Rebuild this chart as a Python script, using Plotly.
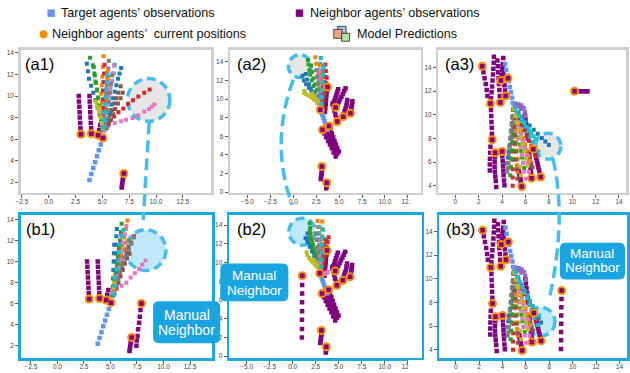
import plotly.graph_objects as go

W, H = 630, 373

# ---------------- colours ----------------
PRED_COLORS = ["#1f77b4", "#ff7f0e", "#2ca02c", "#d62728", "#9467bd",
               "#8c564b", "#e377c2", "#7f7f7f", "#bcbd22", "#17becf"]
TARGET_COLOR = "#6495ED"
NEIGHBOR_COLOR = "#800080"
CURRENT_COLOR = "#FF8C00"
ANNOT_BLUE = "#45bdf0"
CALLOUT_BLUE = "#1aa5e0"

# ---------------- legend / labels ----------------
LEGEND_TEXTS = ["Target agents’ observations", "Neighbor agents’ observations",
                "Neighbor agents’ \u00a0current positions", "Model Predictions"]
PANEL_LABELS = ["(a1)", "(a2)", "(a3)", "(b1)", "(b2)", "(b3)"]
CALLOUT_LINES = ["Manual", "Neighbor"]

# ---------------- scene 1 (a1 / b1) ----------------
S1_TGT_X = [3.8, 3.97, 4.15, 4.32, 4.5, 4.67, 4.85, 5.02]
S1_TGT_Y = [2.2, 2.75, 3.3, 3.85, 4.4, 4.95, 5.5, 6.05]
S1_NEI_X = [[2.8, 2.82, 2.85, 2.88, 2.9, 2.93, 2.96, 3.0],
            [3.8, 3.82, 3.85, 3.87, 3.9, 3.92, 3.95, 3.97],
            [4.8, 4.7, 4.6],
            [6.8, 6.83, 6.86, 6.9, 6.93, 6.97, 7.0]]
S1_NEI_Y = [[10.0, 9.5, 9.0, 8.5, 8.0, 7.5, 7.0, 6.45],
            [10.0, 9.5, 9.0, 8.5, 8.0, 7.5, 7.0, 6.5],
            [7.3, 6.85, 6.35],
            [1.5, 1.7, 1.95, 2.2, 2.4, 2.6, 2.8]]
S1_CUR_X = [3.0, 3.97, 4.6, 5.05, 7.0]
S1_CUR_Y = [6.45, 6.5, 6.35, 6.1, 2.8]
B1_MANUAL_X = [7.92, 7.83, 7.76, 7.7, 7.6, 7.55, 7.48, 7.45]
B1_MANUAL_Y = [6.03, 5.4, 4.77, 4.2, 3.57, 2.94, 2.5, 2.0]

A1_PRED_X = [
    [5.05, 4.9, 4.75, 4.55, 4.35, 4.15, 3.95, 3.75, 3.65, 3.55],
    [5.1, 5.05, 5.0, 4.95, 4.9, 4.95, 5.0, 5.05, 5.1],
    [5.05, 4.95, 4.85, 4.75, 4.6, 4.5, 4.35, 4.25, 4.1, 3.85],
    [5.3, 5.7, 6.1, 6.5, 6.95, 7.4, 7.85, 8.35, 8.9, 9.4],
    [5.0, 4.95, 4.9, 4.95, 5.0],
    [5.3, 5.5, 5.7, 5.9, 6.1, 6.3, 6.5, 6.7],
    [5.2, 5.55, 6.15, 6.75, 7.2, 7.8, 8.35, 8.9, 9.35, 9.6, 9.85],
    [5.15, 5.2, 5.25, 5.3, 5.35, 5.4, 5.5, 5.55, 5.6],
    [5.0, 4.9, 4.8, 4.7, 4.6, 4.5, 4.4],
    [5.2, 5.3, 5.4, 5.5, 5.6, 5.75, 5.9, 6.05, 6.15],
    [5.3, 5.5, 5.7, 5.85, 6.0, 6.15, 6.3, 6.45, 6.6, 6.75],
    [5.2, 5.25, 5.3, 5.35, 5.4, 5.45, 5.5],
    [5.0, 4.9, 4.8, 4.7, 4.6, 4.5, 4.4, 4.3, 4.2],
    [5.1, 5.1, 5.1, 5.05, 5.05, 5.1, 5.15, 5.2],
    [5.1, 5.0, 4.9],
    [5.4, 5.6, 5.8, 6.0, 6.2, 6.45, 6.7, 6.9],
    [5.2, 5.3, 5.4, 5.5, 5.6, 5.7, 5.8, 5.95, 6.1],
    [5.3, 5.4, 5.5, 5.6, 5.7, 5.8, 5.9],
    [5.05, 4.95, 4.85, 4.75, 4.65],
    [5.1, 5.15, 5.2, 5.25, 5.3, 5.35, 5.4, 5.45]]
A1_PRED_Y = [
    [6.8, 7.5, 8.2, 8.9, 9.6, 10.3, 10.95, 11.6, 12.3, 13.0],
    [6.9, 7.8, 8.6, 9.4, 10.2, 11.0, 11.8, 12.7, 13.7],
    [7.0, 7.7, 8.4, 9.1, 9.85, 10.6, 11.35, 12.1, 12.85, 13.55],
    [7.3, 7.7, 8.1, 8.5, 8.85, 9.25, 9.6, 9.95, 10.3, 10.6],
    [6.9, 7.3, 7.7, 8.1, 8.5],
    [7.2, 7.7, 8.2, 8.7, 9.3, 9.8, 10.3, 10.9],
    [6.8, 7.2, 7.5, 7.65, 7.8, 7.95, 8.2, 8.55, 8.8, 9.0, 9.2],
    [7.0, 7.8, 8.6, 9.4, 10.2, 11.0, 11.8, 12.55, 13.25],
    [7.3, 7.7, 8.1, 8.5, 8.9, 9.2, 9.5],
    [6.9, 7.6, 8.4, 9.2, 9.9, 10.7, 11.4, 12.1, 12.9],
    [7.2, 7.9, 8.5, 9.2, 9.8, 10.4, 11.0, 11.6, 12.1, 12.6],
    [7.0, 7.9, 8.8, 9.7, 10.6, 11.5, 12.3],
    [7.0, 7.7, 8.4, 9.1, 9.8, 10.5, 11.2, 11.9, 12.7],
    [7.3, 8.1, 8.9, 9.7, 10.5, 11.3, 12.1, 12.9],
    [7.6, 8.0, 8.4],
    [7.0, 7.4, 7.8, 8.3, 8.8, 9.3, 9.8, 10.3],
    [7.2, 7.9, 8.6, 9.3, 10.0, 10.7, 11.4, 12.1, 12.8],
    [7.1, 7.9, 8.7, 9.5, 10.3, 11.1, 11.9],
    [7.0, 7.5, 8.0, 8.5, 9.0],
    [7.1, 7.8, 8.5, 9.2, 9.9, 10.6, 11.3, 12.0]]

B1_PRED_X = [
    [5.2, 5.25, 5.3, 5.35, 5.4, 5.45, 5.5, 5.55, 5.6],
    [5.25, 5.4, 5.55, 5.7, 5.85, 6.0, 6.15, 6.3, 6.45, 6.6],
    [5.2, 5.3, 5.4, 5.5, 5.6, 5.7, 5.8, 5.9, 6.0, 6.05],
    [5.3, 5.5, 5.7, 5.9, 6.1, 6.3, 6.5, 6.7, 6.95, 7.2],
    [5.2, 5.3, 5.4],
    [5.3, 5.45, 5.6, 5.75, 5.9, 6.05, 6.2, 6.4, 6.55, 6.7],
    [5.4, 5.6, 6.05, 6.5, 6.9, 7.3, 7.7, 8.0, 8.3],
    [5.3, 5.5, 5.7, 5.9, 6.1, 6.3, 6.5, 6.7, 6.95, 7.2],
    [5.2, 5.25, 5.3, 5.35, 5.4, 5.45],
    [5.25, 5.35, 5.45, 5.55, 5.65, 5.75, 5.85, 5.95, 6.05, 6.2],
    [5.2, 5.22, 5.25, 5.27, 5.3, 5.32, 5.35],
    [5.3, 5.45, 5.6, 5.75, 5.9, 6.05, 6.2, 6.35],
    [5.25, 5.35, 5.45, 5.55, 5.65, 5.75, 5.85, 5.95],
    [5.3, 5.4, 5.5, 5.6, 5.7, 5.8, 5.9, 6.0],
    [5.25, 5.35],
    [5.35, 5.55, 5.75, 5.95, 6.15, 6.35, 6.55, 6.8],
    [5.3, 5.45, 5.6, 5.75, 5.9, 6.05, 6.2, 6.35, 6.5],
    [5.3, 5.5, 5.7, 5.9, 6.1, 6.3, 6.55, 6.8],
    [5.25, 5.3, 5.35, 5.4],
    [5.3, 5.4, 5.5, 5.6, 5.7, 5.8, 5.9, 6.0]]
B1_PRED_Y = [
    [6.8, 7.6, 8.4, 9.2, 10.0, 10.8, 11.6, 12.4, 13.1],
    [6.8, 7.6, 8.4, 9.1, 9.9, 10.7, 11.5, 12.3, 13.1, 13.9],
    [6.8, 7.5, 8.3, 9.0, 9.8, 10.5, 11.3, 12.0, 12.8, 13.6],
    [6.9, 7.5, 8.1, 8.7, 9.3, 9.9, 10.5, 11.1, 11.8, 12.4],
    [6.9, 7.3, 7.7],
    [6.9, 7.4, 7.9, 8.4, 8.9, 9.4, 9.9, 10.4, 10.9, 11.4],
    [7.0, 7.4, 7.7, 8.0, 8.5, 8.9, 9.3, 9.7, 10.1],
    [6.9, 7.5, 8.1, 8.7, 9.3, 9.9, 10.5, 11.1, 11.7, 12.3],
    [6.9, 7.3, 7.7, 8.1, 8.5, 8.9],
    [6.8, 7.5, 8.2, 8.9, 9.6, 10.3, 11.0, 11.7, 12.4, 13.0],
    [6.8, 7.6, 8.4, 9.2, 10.0, 10.8, 11.6],
    [6.9, 7.6, 8.3, 9.0, 9.7, 10.4, 11.1, 11.8],
    [6.9, 7.6, 8.3, 9.0, 9.7, 10.4, 11.1, 11.8],
    [7.0, 7.8, 8.6, 9.4, 10.2, 11.0, 11.8, 12.6],
    [7.0, 7.4],
    [7.0, 7.5, 8.0, 8.6, 9.2, 9.8, 10.3, 10.75],
    [7.0, 7.8, 8.6, 9.4, 10.2, 11.0, 11.8, 12.6, 13.4],
    [7.0, 7.6, 8.3, 9.0, 9.7, 10.4, 11.2, 12.0],
    [7.0, 7.5, 8.0, 8.5],
    [6.9, 7.7, 8.5, 9.3, 10.1, 10.9, 11.7, 12.5]]

# ---------------- scene 2 (a2 / b2) ----------------
S2_TGT_X = [3.75, 3.64, 3.52, 3.41, 3.3, 3.18, 3.07, 2.95]
S2_TGT_Y = [6.7, 7.0, 7.3, 7.6, 7.95, 8.25, 8.55, 8.85]
S2_NEI_X = [[3.45, 3.5, 3.54, 3.58, 3.62, 3.67, 3.73],
            [4.9, 4.8, 4.7, 4.6, 4.5, 4.4, 4.3],
            [5.7, 5.55, 5.4, 5.25, 5.1, 4.95, 4.8, 4.65],
            [5.9, 5.85, 5.8, 5.7, 5.6, 5.5, 5.45],
            [6.45, 6.42, 6.38, 6.34, 6.3, 6.25],
            [4.3, 4.4, 4.5, 4.6, 4.7, 4.8],
            [3.19, 3.4, 3.6, 3.8, 4.0, 4.2, 4.4, 4.62],
            [3.9, 4.05, 4.2, 4.35, 4.5, 4.65, 4.8, 4.98],
            [3.55, 3.72, 3.9, 4.08, 4.26, 4.44, 4.62, 4.8],
            [3.0, 3.03, 3.06, 3.09, 3.12, 3.15, 3.12],
            [3.6, 3.62, 3.64, 3.65]]
S2_NEI_Y = [[8.6, 9.05, 9.5, 9.95, 10.4, 10.85, 11.28],
            [11.05, 10.75, 10.45, 10.15, 9.85, 9.6, 9.38],
            [11.15, 10.85, 10.55, 10.25, 9.95, 9.65, 9.35, 9.1],
            [9.9, 9.6, 9.3, 9.0, 8.7, 8.4, 8.1],
            [9.75, 9.5, 9.25, 9.0, 8.75, 8.5],
            [9.5, 9.1, 8.7, 8.3, 7.95, 7.6],
            [6.69, 6.3, 5.9, 5.5, 5.1, 4.7, 4.25, 3.82],
            [7.1, 6.7, 6.3, 5.9, 5.5, 5.1, 4.7, 4.35],
            [6.9, 6.5, 6.1, 5.7, 5.3, 4.9, 4.5, 4.1],
            [1.4, 1.6, 1.85, 2.05, 2.3, 2.5, 2.74],
            [0.4, 0.6, 0.8, 1.0]]
S2_CUR_X = [3.73, 4.62, 5.45, 6.24, 4.8, 3.19, 3.9, 3.12, 3.65, 2.95]
S2_CUR_Y = [11.28, 9.1, 8.1, 8.48, 7.58, 6.69, 7.1, 2.74, 1.0, 8.85]
B2_MANUAL_X = [1.04, 1.03, 1.03, 1.02, 1.02, 1.01, 1.01, 1.0]
B2_MANUAL_Y = [8.6, 7.6, 6.7, 5.75, 4.8, 3.9, 2.9, 2.0]

A2_PRED_X = [
    [2.9, 2.6, 2.3, 2.0, 1.7, 1.4, 1.15, 1.0],
    [3.0, 2.95, 2.9, 2.8, 2.7, 2.6, 2.5, 2.4],
    [2.8, 2.6, 2.4, 2.2, 2.0, 1.85, 1.75, 1.65, 1.6],
    [3.1, 3.2, 3.3, 3.4, 3.45, 3.5, 3.55, 3.5],
    [3.0, 2.95, 2.9, 2.85, 2.8],
    [3.1, 3.05, 3.0, 2.95, 2.9, 2.85],
    [3.0, 2.95, 2.9, 2.85, 2.8, 2.75, 2.7],
    [3.05, 3.1, 3.1, 3.1, 3.15, 3.2, 3.3],
    [2.9, 2.6, 2.3, 2.0, 1.7, 1.4, 1.2, 1.2],
    [3.0, 3.0, 2.95, 2.9, 2.85, 2.8, 2.85, 2.95, 3.0],
    [2.8, 2.5, 2.2, 1.9, 1.7, 1.5, 1.35],
    [3.1, 3.1, 3.05, 3.0, 2.95, 2.9],
    [3.0, 2.8, 2.6, 2.4, 2.2, 2.05, 1.95],
    [3.2, 3.3, 3.4, 3.5, 3.6, 3.65],
    [3.05, 3.0, 2.95, 2.9],
    [3.15, 3.2, 3.25, 3.3, 3.35],
    [3.05, 3.0, 2.95, 2.9, 2.85, 2.8],
    [3.0, 2.9, 2.8, 2.7, 2.6, 2.5],
    [2.9, 2.7, 2.5, 2.3, 2.1],
    [3.05, 3.1, 3.15, 3.2, 3.25, 3.3]]
A2_PRED_Y = [
    [9.4, 9.9, 10.4, 10.8, 11.2, 11.6, 12.0, 12.5],
    [9.6, 10.3, 11.0, 11.7, 12.4, 13.1, 13.8, 14.5],
    [9.6, 10.2, 10.8, 11.4, 12.0, 12.6, 13.1, 13.7, 14.2],
    [9.4, 10.0, 10.6, 11.2, 11.8, 12.4, 13.0, 13.7],
    [9.7, 10.3, 10.9, 11.5, 12.1],
    [9.5, 10.1, 10.7, 11.3, 11.9, 12.5],
    [9.6, 10.1, 10.6, 11.1, 11.6, 12.1, 12.6],
    [9.5, 10.2, 10.9, 11.6, 12.3, 13.0, 13.6],
    [9.3, 9.6, 9.9, 10.15, 10.35, 10.5, 10.65, 10.85],
    [9.5, 10.1, 10.7, 11.3, 11.9, 12.5, 13.1, 13.8, 14.4],
    [9.6, 10.1, 10.6, 11.1, 11.6, 12.1, 12.7],
    [9.6, 10.4, 11.2, 12.0, 12.8, 13.6],
    [9.6, 10.3, 11.0, 11.6, 12.2, 12.9, 13.6],
    [9.3, 9.9, 10.5, 11.1, 11.7, 12.3],
    [9.5, 10.0, 10.5, 11.0],
    [9.4, 10.0, 10.6, 11.2, 11.8],
    [9.5, 10.2, 10.9, 11.6, 12.3, 13.0],
    [9.6, 10.3, 11.0, 11.7, 12.4, 13.1],
    [9.4, 9.7, 10.0, 10.3, 10.6],
    [9.4, 10.2, 11.0, 11.8, 12.6, 13.4]]

B2_PRED_X = [
    [2.9, 2.7, 2.5, 2.3, 2.1, 1.9, 1.75, 1.6],
    [3.1, 3.05, 3.0, 2.95, 2.9, 2.85, 2.8, 2.75, 2.7],
    [3.0, 2.8, 2.6, 2.4, 2.2, 2.05, 1.95, 1.9, 1.85],
    [3.2, 3.3, 3.4, 3.5, 3.6, 3.7, 3.8, 3.9],
    [3.0, 2.95, 2.9, 2.85],
    [3.2, 3.25, 3.3, 3.35, 3.4, 3.45],
    [2.75, 2.9, 3.05, 3.2, 3.35, 3.5, 3.65, 3.8],
    [3.1, 3.1, 3.05, 3.0, 2.95, 2.9, 2.85],
    [2.8, 2.6, 2.4, 2.2, 2.0, 1.8, 1.6, 1.5],
    [3.0, 3.0, 3.0, 2.95, 2.95, 2.9, 2.9],
    [2.85, 2.6, 2.35, 2.1, 1.85, 1.6, 1.4],
    [3.1, 3.1, 3.15, 3.15, 3.2, 3.2, 3.2],
    [2.9, 2.7, 2.5, 2.3, 2.1, 1.95, 1.85],
    [3.15, 3.25, 3.35, 3.45, 3.55, 3.65],
    [3.0, 2.95],
    [3.1, 3.15, 3.2, 3.25, 3.3],
    [3.0, 2.9, 2.8, 2.7],
    [3.0, 2.9, 2.8, 2.7, 2.6, 2.5],
    [2.9, 2.7, 2.5, 2.3],
    [3.05, 3.1, 3.15, 3.2, 3.25, 3.3]]
B2_PRED_Y = [
    [9.6, 10.1, 10.6, 11.1, 11.6, 12.1, 12.6, 13.1],
    [9.5, 10.1, 10.7, 11.3, 11.9, 12.5, 13.1, 13.8, 14.45],
    [9.5, 10.1, 10.7, 11.3, 11.9, 12.5, 13.1, 13.7, 14.2],
    [9.4, 9.8, 10.2, 10.7, 11.2, 11.7, 12.2, 12.7],
    [9.6, 10.2, 10.8, 11.4],
    [9.5, 10.1, 10.7, 11.3, 11.9, 12.5],
    [8.9, 8.8, 8.75, 8.7, 8.75, 8.8, 8.9, 9.0],
    [9.5, 10.1, 10.7, 11.3, 11.9, 12.5, 13.1],
    [9.4, 9.6, 9.8, 10.0, 10.25, 10.5, 10.8, 11.1],
    [9.6, 10.3, 11.0, 11.7, 12.4, 13.1, 13.8],
    [9.7, 10.2, 10.7, 11.2, 11.7, 12.2, 12.6],
    [9.6, 10.4, 11.2, 12.0, 12.8, 13.6, 14.4],
    [9.7, 10.3, 10.9, 11.5, 12.1, 12.7, 13.3],
    [9.3, 9.9, 10.5, 11.1, 11.7, 12.3],
    [9.5, 9.9],
    [9.4, 10.0, 10.6, 11.2, 11.8],
    [10.0, 10.8, 11.6, 12.4],
    [9.6, 10.3, 11.0, 11.7, 12.4, 13.1],
    [9.4, 9.7, 10.0, 10.3],
    [9.5, 10.3, 11.1, 11.9, 12.7, 13.5]]

# ---------------- scene 3 (a3 / b3) ----------------
S3_TGT_X = [4.25, 4.35, 4.45, 4.55, 4.65, 4.75, 4.85, 4.95]
S3_TGT_Y = [14.3, 13.8, 13.3, 12.85, 12.35, 11.9, 11.45, 11.0]
S3_NEI_X = [[2.3, 2.4, 2.5, 2.6, 2.68, 2.75],
            [3.3, 3.28, 3.25, 3.22, 3.18, 3.14, 3.1, 3.05, 3.0],
            [3.6, 3.63, 3.66, 3.7, 3.73, 3.77, 3.8, 3.85],
            [4.1, 4.05, 4.0, 3.95, 3.9],
            [4.05, 4.1, 4.15, 4.2, 4.25, 4.3],
            [4.5],
            [3.05, 3.07, 3.09, 3.11, 3.13, 3.15],
            [3.4, 3.38, 3.36, 3.36, 3.38, 3.42, 3.46, 3.5],
            [3.0, 2.98, 2.96, 2.95, 2.95],
            [4.0, 4.02, 4.05, 4.08, 4.1, 4.13, 4.16, 4.2],
            [5.4, 5.44, 5.48, 5.52, 5.56, 5.6, 5.64, 5.68],
            [5.95, 6.0, 6.05, 6.1, 6.15, 6.2],
            [6.3, 6.33, 6.36, 6.4, 6.43, 6.46, 6.49, 6.52],
            [6.85, 6.91, 6.98, 7.04, 7.1, 7.17, 7.23, 7.3],
            [6.67],
            [10.2, 10.4, 10.6, 10.8, 11.0, 11.2, 11.3]]
S3_NEI_Y = [[14.1, 13.6, 13.1, 12.6, 12.1, 11.6],
            [14.9, 14.4, 13.9, 13.4, 12.9, 12.4, 11.9, 11.4, 10.95],
            [14.6, 14.1, 13.6, 13.1, 12.6, 12.1, 11.6, 11.05],
            [14.8, 14.3, 13.8, 13.35, 12.9],
            [14.0, 13.5, 13.0, 12.5, 12.05, 11.6],
            [13.1],
            [10.4, 9.9, 9.4, 8.9, 8.4, 7.9],
            [6.8, 6.4, 6.0, 5.6, 5.2, 4.8, 4.4, 3.9],
            [7.3, 6.8, 6.3, 5.8, 5.3],
            [6.9, 6.5, 6.1, 5.7, 5.3, 4.9, 4.45, 4.05],
            [5.35, 5.15, 4.95, 4.75, 4.55, 4.35, 4.15, 3.94],
            [10.0, 9.6, 9.2, 8.8, 8.4, 8.0],
            [6.8, 6.5, 6.2, 5.9, 5.55, 5.25, 4.95, 4.65],
            [6.6, 6.35, 6.1, 5.85, 5.55, 5.3, 5.0, 4.75],
            [7.1],
            [12.0, 12.0, 12.0, 12.0, 12.0, 12.0, 12.0]]
S3_CUR_X = [2.3, 3.0, 3.85, 3.9, 4.3, 4.5, 3.15, 3.4, 4.0, 5.68, 6.52, 7.3, 6.67, 10.2]
S3_CUR_Y = [14.1, 10.95, 11.05, 12.9, 11.6, 13.1, 7.9, 6.8, 6.9, 3.94, 4.65, 4.75, 7.1, 12.0]
B3_MANUAL_X = [9.06, 9.04, 9.03, 9.02, 9.02, 9.01, 9.01, 9.0]
B3_MANUAL_Y = [9.0, 8.3, 7.6, 6.9, 6.2, 5.5, 4.8, 4.07]

A3_PRED_X = [
    [5.1, 5.4, 5.7, 6.0, 6.35, 6.7, 7.05, 7.4, 7.7, 8.0],
    [4.95, 4.98, 5.0, 5.03, 5.06, 5.1, 5.15, 5.2, 5.25, 5.3],
    [5.0, 5.1, 5.2, 5.3, 5.4, 5.5, 5.6, 5.7, 5.8, 5.9],
    [4.95, 4.95, 4.95, 4.95, 4.94, 4.93, 4.92, 4.91, 4.9, 4.9],
    [4.9, 5.15, 5.4, 5.65, 5.85, 5.95, 6.0],
    [5.05, 5.2, 5.35, 5.55, 5.75, 5.95, 6.15, 6.35, 6.5, 6.6],
    [5.0, 5.1, 5.2, 5.3, 5.45, 5.6, 5.7, 5.8, 5.9, 6.0],
    [4.95, 4.9, 4.85, 4.8, 4.75, 4.7, 4.65, 4.6, 4.55, 4.5],
    [5.0, 5.05, 5.1, 5.15, 5.2, 5.3, 5.4, 5.5, 5.6],
    [5.1, 5.35, 5.6, 5.85, 6.1, 6.35, 6.6, 6.85, 7.1],
    [4.95, 4.9, 4.85, 4.8, 4.72, 4.64, 4.56, 4.48, 4.4],
    [5.05, 5.2, 5.35, 5.5, 5.65, 5.8, 5.95, 6.1, 6.25, 6.4],
    [4.95, 4.93, 4.91, 4.89, 4.86, 4.83, 4.8, 4.75, 4.7],
    [5.1, 5.3, 5.5, 5.7, 5.9, 6.1, 6.3, 6.5, 6.7, 6.9],
    [5.0, 5.2, 5.4, 5.6],
    [4.98, 5.02, 5.06, 5.1, 5.14, 5.18, 5.22, 5.26, 5.3],
    [5.05, 5.2, 5.35, 5.5, 5.65, 5.8, 5.95, 6.1, 6.2, 6.3],
    [4.92, 4.86, 4.8, 4.74, 4.68, 4.62, 4.56, 4.5, 4.45],
    [5.0, 5.15, 5.3, 5.45, 5.6, 5.75, 5.9, 6.05, 6.2],
    [5.1, 5.3, 5.5, 5.7, 5.9, 6.1, 6.3, 6.5, 6.7, 6.85]]
A3_PRED_Y = [
    [10.6, 10.2, 9.8, 9.45, 9.1, 8.75, 8.4, 8.05, 7.75, 7.45],
    [10.5, 9.9, 9.3, 8.7, 8.1, 7.5, 6.9, 6.3, 5.75, 5.2],
    [10.5, 9.9, 9.3, 8.7, 8.1, 7.5, 6.95, 6.4, 5.95, 5.5],
    [10.4, 9.7, 9.0, 8.3, 7.6, 6.9, 6.2, 5.4, 4.7, 4.0],
    [11.0, 10.95, 10.9, 10.8, 10.6, 10.25, 9.9],
    [10.4, 9.8, 9.2, 8.6, 8.0, 7.4, 6.85, 6.35, 5.95, 5.6],
    [10.5, 9.9, 9.3, 8.7, 8.0, 7.3, 6.6, 5.9, 5.2, 4.6],
    [10.5, 9.9, 9.3, 8.7, 8.1, 7.5, 6.9, 6.4, 5.95, 5.5],
    [10.5, 9.8, 9.1, 8.4, 7.7, 7.0, 6.3, 5.6, 4.9],
    [10.5, 10.0, 9.5, 9.05, 8.6, 8.15, 7.7, 7.3, 6.9],
    [10.4, 9.8, 9.2, 8.6, 8.0, 7.4, 6.9, 6.4, 5.9],
    [10.5, 10.0, 9.5, 9.0, 8.5, 8.0, 7.5, 7.0, 6.55, 6.1],
    [10.5, 9.8, 9.1, 8.4, 7.7, 7.0, 6.3, 5.6, 4.9],
    [10.6, 10.1, 9.6, 9.15, 8.7, 8.25, 7.8, 7.35, 6.9, 6.5],
    [10.9, 10.8, 10.7, 10.5],
    [10.4, 9.7, 9.0, 8.3, 7.6, 6.9, 6.2, 5.4, 4.6],
    [10.5, 9.95, 9.4, 8.85, 8.3, 7.75, 7.2, 6.6, 5.9, 5.2],
    [10.4, 9.8, 9.2, 8.6, 8.0, 7.3, 6.6, 5.9, 5.2],
    [10.5, 9.9, 9.3, 8.7, 8.1, 7.5, 6.9, 6.3, 5.7],
    [10.6, 10.25, 9.9, 9.6, 9.3, 9.0, 8.7, 8.45, 8.2, 7.95]]
# b3 predictions: same samples as a3 except the blue and cyan ones
B3_BLUE_X = [5.1, 5.35, 5.6, 5.85, 6.1, 6.35, 6.6, 6.85, 7.1, 7.3]
B3_BLUE_Y = [10.5, 10.0, 9.5, 9.0, 8.5, 8.0, 7.55, 7.1, 6.7, 6.3]
B3_CYAN_X = [5.1, 5.3, 5.5, 5.7, 5.9, 6.1, 6.3, 6.5, 6.75, 7.0]
B3_CYAN_Y = [10.6, 10.15, 9.7, 9.25, 8.8, 8.35, 7.85, 7.3, 6.7, 6.1]
B3_PRED_X = [B3_BLUE_X] + A3_PRED_X[1:19] + [B3_CYAN_X]
B3_PRED_Y = [B3_BLUE_Y] + A3_PRED_Y[1:19] + [B3_CYAN_Y]

# ---------------- axes ----------------
X_TICKS_A = [-2.5, 0, 2.5, 5, 7.5, 10, 12.5]
X_TICKS_B = [-5, -2.5, 0, 2.5, 5, 7.5, 10, 12.5]
X_TICKS_C = [0, 2, 4, 6, 8, 10, 12, 14]
Y_TICKS_A = [2, 4, 6, 8, 10, 12, 14]
Y_TICKS_B = [0, 2, 4, 6, 8, 10, 12, 14]
Y_TICKS_C = [4, 6, 8, 10, 12, 14]


def P(x, y):
    return x / W, 1 - y / H


def pth(*segs):
    out = []
    for seg in segs:
        if seg == "Z":
            out.append("Z")
            continue
        cmd, *pts = seg
        out.append(cmd + " " + " ".join("%.5f,%.5f" % P(x, y) for x, y in pts))
    return " ".join(out)


def rrect(x0, y0, x1, y1, r):
    return pth(("M", (x0 + r, y0)), ("L", (x1 - r, y0)), ("Q", (x1, y0), (x1, y0 + r)),
               ("L", (x1, y1 - r)), ("Q", (x1, y1), (x1 - r, y1)), ("L", (x0 + r, y1)),
               ("Q", (x0, y1), (x0, y1 - r)), ("L", (x0, y0 + r)), ("Q", (x0, y0), (x0 + r, y0)), "Z")


panels = [
    dict(px=(16, 209, 50, 194), xr=[-2.6, 15.15], yr=[0.99, 14.3], xt=X_TICKS_A, yt=Y_TICKS_A, fmt=".1f",
         tgt=(S1_TGT_X, S1_TGT_Y), nei=(S1_NEI_X, S1_NEI_Y), cur=(S1_CUR_X, S1_CUR_Y),
         pred=(A1_PRED_X, A1_PRED_Y), man=None, frame="#cfcfcf"),
    dict(px=(228, 421, 50, 194), xr=[-6.9, 13.9], yr=[-0.1, 15.3], xt=X_TICKS_B, yt=Y_TICKS_B, fmt=".1f",
         tgt=(S2_TGT_X, S2_TGT_Y), nei=(S2_NEI_X, S2_NEI_Y), cur=(S2_CUR_X, S2_CUR_Y),
         pred=(A2_PRED_X, A2_PRED_Y), man=None, frame="#cfcfcf"),
    dict(px=(439, 629, 50, 194), xr=[-1.45, 14.6], yr=[3.4, 15.5], xt=X_TICKS_C, yt=Y_TICKS_C, fmt="d",
         tgt=(S3_TGT_X, S3_TGT_Y), nei=(S3_NEI_X, S3_NEI_Y), cur=(S3_CUR_X, S3_CUR_Y),
         pred=(A3_PRED_X, A3_PRED_Y), man=None, frame="#cfcfcf"),
    dict(px=(16, 210, 216, 360), xr=[-3.45, 14.6], yr=[0.84, 14.44], xt=X_TICKS_A, yt=Y_TICKS_A, fmt=".1f",
         tgt=(S1_TGT_X, S1_TGT_Y), nei=(S1_NEI_X, S1_NEI_Y), cur=(S1_CUR_X, S1_CUR_Y),
         pred=(B1_PRED_X, B1_PRED_Y), man=(B1_MANUAL_X, B1_MANUAL_Y), frame="#1ea6e0"),
    dict(px=(227, 422, 216, 360), xr=[-6.9, 14.0], yr=[-0.2, 15.1], xt=X_TICKS_B, yt=Y_TICKS_B, fmt=".1f",
         tgt=(S2_TGT_X, S2_TGT_Y), nei=(S2_NEI_X, S2_NEI_Y), cur=(S2_CUR_X, S2_CUR_Y),
         pred=(B2_PRED_X, B2_PRED_Y), man=(B2_MANUAL_X, B2_MANUAL_Y), frame="#1ea6e0"),
    dict(px=(440, 630, 216, 360), xr=[-1.4, 14.65], yr=[3.3, 15.4], xt=X_TICKS_C, yt=Y_TICKS_C, fmt="d",
         tgt=(S3_TGT_X, S3_TGT_Y), nei=(S3_NEI_X, S3_NEI_Y), cur=(S3_CUR_X, S3_CUR_Y),
         pred=(B3_PRED_X, B3_PRED_Y), man=(B3_MANUAL_X, B3_MANUAL_Y), frame="#1ea6e0"),
]

fig = go.Figure()
layout = dict(width=W, height=H, margin=dict(l=0, r=0, t=0, b=0), paper_bgcolor="white",
              plot_bgcolor="rgba(0,0,0,0)", showlegend=False)

TICKFONT = dict(family="Liberation Sans, Arial, sans-serif", size=6.5, color="#444")
SQ = 4.5

for i, p in enumerate(panels):
    sfx = "" if i == 0 else str(i + 1)
    xa, ya = "x" + sfx, "y" + sfx
    x0, x1, y0, y1 = p["px"]
    common = dict(showgrid=False, zeroline=False, showline=True, mirror=True, linecolor=p["frame"],
                  linewidth=2.5, ticks="outside", ticklen=3, tickwidth=0.8, tickcolor="#333",
                  tickfont=TICKFONT, fixedrange=True)
    layout["xaxis" + sfx] = dict(domain=[x0 / W, x1 / W], range=p["xr"], tickvals=p["xt"],
                                 tickformat=p["fmt"], anchor=ya, ticklabelstandoff=-2, **common)
    layout["yaxis" + sfx] = dict(domain=[1 - y1 / H, 1 - y0 / H], range=p["yr"], tickvals=p["yt"],
                                 tickformat="d", anchor=xa, **common)

    nei_x, nei_y = list(p["nei"][0]), list(p["nei"][1])
    cur_x, cur_y = list(p["cur"][0]), list(p["cur"][1])
    if p["man"] is not None:
        nei_x.append(p["man"][0])
        nei_y.append(p["man"][1])
        cur_x.append(p["man"][0][0])
        cur_y.append(p["man"][1][0])

    # neighbour observations
    for nx, ny in zip(nei_x, nei_y):
        fig.add_trace(go.Scatter(x=nx, y=ny, mode="markers", xaxis=xa, yaxis=ya, hoverinfo="skip",
                                 marker=dict(symbol="square", size=SQ, color=NEIGHBOR_COLOR, line=dict(width=0))))
    # model predictions
    for k, (qx, qy) in enumerate(zip(*p["pred"])):
        fig.add_trace(go.Scatter(x=qx, y=qy, mode="markers", xaxis=xa, yaxis=ya, hoverinfo="skip",
                                 marker=dict(symbol="square", size=4, color=PRED_COLORS[k % 10],
                                             line=dict(width=0))))
    # target observations
    fig.add_trace(go.Scatter(x=p["tgt"][0], y=p["tgt"][1], mode="markers", xaxis=xa, yaxis=ya,
                             hoverinfo="skip",
                             marker=dict(symbol="square", size=SQ, color=TARGET_COLOR, line=dict(width=0))))
    # current positions
    fig.add_trace(go.Scatter(x=cur_x, y=cur_y, mode="markers", xaxis=xa, yaxis=ya, hoverinfo="skip",
                             marker=dict(symbol="circle", size=9, color=CURRENT_COLOR, line=dict(width=0))))
    fig.add_trace(go.Scatter(x=cur_x, y=cur_y, mode="markers", xaxis=xa, yaxis=ya, hoverinfo="skip",
                             marker=dict(symbol="square", size=SQ, color=NEIGHBOR_COLOR, line=dict(width=0))))

shapes = []
annotations = []


def circ(cx, cy, r, fill):
    a = P(cx - r, cy + r)
    b = P(cx + r, cy - r)
    shapes.append(dict(type="circle", xref="paper", yref="paper", x0=a[0], y0=a[1], x1=b[0], y1=b[1],
                       fillcolor=fill, line=dict(color=ANNOT_BLUE, width=3.5, dash="9px,5px"),
                       layer="below"))


# highlight circles
circ(145.5, 100.5, 21.5, "#e6e6e6")
circ(298.5, 66.5, 11.5, "#e6e6e6")
circ(550, 147, 13, "#e6e6e6")
circ(142.5, 251.5, 20.5, "#bfe8f9")
circ(301, 233, 13.5, "#bfe8f9")
circ(542.5, 323.5, 14.5, "#bfe8f9")

DASH = dict(color=ANNOT_BLUE, width=3.5, dash="12px,6px")
# dashed connectors
shapes.append(dict(type="path", xref="paper", yref="paper", layer="above", line=DASH,
                   path=pth(("M", (146, 123)), ("L", (140, 221)))))
shapes.append(dict(type="path", xref="paper", yref="paper", layer="above", line=DASH,
                   path=pth(("M", (292, 80)), ("Q", (268, 145), (291, 206)))))
shapes.append(dict(type="path", xref="paper", yref="paper", layer="above", line=DASH,
                   path=pth(("M", (555, 160)), ("Q", (569, 218), (552, 297)))))
# arrow heads
for tri in [((139.5, 231), (134.5, 221), (145, 221.5)),
            ((297, 215), (296, 205), (288, 209.5)),
            ((549, 306.5), (556.5, 298.5), (547.5, 295.5))]:
    shapes.append(dict(type="path", xref="paper", yref="paper", layer="above", fillcolor=ANNOT_BLUE,
                       line=dict(width=0), path=pth(("M", tri[0]), ("L", tri[1], tri[2]), "Z")))

# white mask imitating the cropped 12.5 tick labels of a2 / b2
for (mx0, my0, mx1, my1) in [(411, 197, 427, 208), (408.5, 362, 425, 373)]:
    a = P(mx0, my1)
    b = P(mx1, my0)
    shapes.append(dict(type="rect", xref="paper", yref="paper", x0=a[0], y0=a[1], x1=b[0], y1=b[1],
                       fillcolor="white", line=dict(width=0), layer="above"))

# callouts
CALLOUTS = [
    (150, 303, 218, 345, ((144, 306), (151, 309), (151, 320)), 184, 317, 332, 14),
    (218, 265, 287, 303, ((296.5, 276.5), (286, 270), (286, 281)), 252.5, 277, 292, 13.5),
    (562, 244, 628, 281, ((564, 290), (566, 280), (576, 280)), 595, 255, 269, 13.5),
]
for bx0, by0, bx1, by1, tail, tx, ty1, ty2, fs in CALLOUTS:
    shapes.append(dict(type="path", xref="paper", yref="paper", layer="above", fillcolor=CALLOUT_BLUE,
                       line=dict(width=0), path=rrect(bx0, by0, bx1, by1, 6)))
    shapes.append(dict(type="path", xref="paper", yref="paper", layer="above", fillcolor=CALLOUT_BLUE,
                       line=dict(width=0), path=pth(("M", tail[0]), ("L", tail[1], tail[2]), "Z")))
    for txt, ty in zip(CALLOUT_LINES, (ty1, ty2)):
        ax, ay = P(tx, ty)
        annotations.append(dict(x=ax, y=ay, xref="paper", yref="paper", text=txt, showarrow=False,
                                xanchor="center", yanchor="middle",
                                font=dict(family="Liberation Sans, Arial, sans-serif", size=fs,
                                          color="white")))

# panel labels
LABEL_POS = [(18, 64.5), (233, 64.5), (444, 64.5), (19, 230), (233, 230), (445, 230)]
for lab, (lx, ly) in zip(PANEL_LABELS, LABEL_POS):
    ax, ay = P(lx, ly)
    annotations.append(dict(x=ax, y=ay, xref="paper", yref="paper", text=lab, showarrow=False,
                            xanchor="left", yanchor="middle",
                            font=dict(family="Liberation Sans, Arial, sans-serif", size=16.5, color="black")))

# legend
def rect_px(x0, y0, x1, y1, fill, line=None):
    a = P(x0, y1)
    b = P(x1, y0)
    shapes.append(dict(type="rect", xref="paper", yref="paper", x0=a[0], y0=a[1], x1=b[0], y1=b[1],
                       fillcolor=fill, line=line or dict(width=0), layer="above"))


rect_px(43, 9.5, 50.5, 17, TARGET_COLOR)
rect_px(294.5, 9.5, 302, 17, NEIGHBOR_COLOR)
a = P(35, 38.5)
b = P(43, 30.5)
shapes.append(dict(type="circle", xref="paper", yref="paper", x0=a[0], y0=a[1], x1=b[0], y1=b[1],
                   fillcolor=CURRENT_COLOR, line=dict(width=0), layer="above"))
ICON_LINE = dict(color="#222", width=0.8)
rect_px(337, 26.5, 345.5, 34, "#a3c6ec", ICON_LINE)
rect_px(333, 29.5, 341.5, 38.5, "#f6a47e", ICON_LINE)
rect_px(341, 33.5, 349, 41.5, "#b1e59c", ICON_LINE)

LEGEND_POS = [(54.5, 13.5), (306.5, 13.5), (46, 34.5), (354.5, 34.5)]
for txt, (lx, ly) in zip(LEGEND_TEXTS, LEGEND_POS):
    ax, ay = P(lx, ly)
    annotations.append(dict(x=ax, y=ay, xref="paper", yref="paper", text=txt, showarrow=False,
                            xanchor="left", yanchor="middle",
                            font=dict(family="Liberation Sans, Arial, sans-serif", size=12.6, color="#111")))

layout["shapes"] = shapes
layout["annotations"] = annotations
fig.update_layout(**layout)
fig.write_html("out.html", config={"displayModeBar": False, "staticPlot": True},
               post_script="document.body.style.margin='0';document.body.style.padding='0';"
                           "document.documentElement.style.overflow='hidden';")
